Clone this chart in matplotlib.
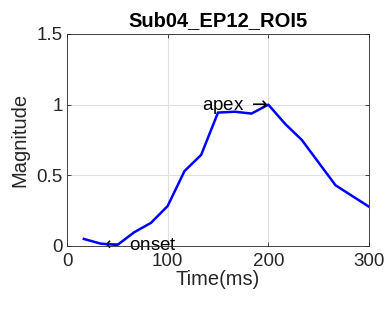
import matplotlib
matplotlib.use("Agg")
import matplotlib.pyplot as plt

time_ms = [16.7, 33.3, 50.0, 66.7, 83.3, 100.0, 116.7, 133.3, 150.0, 166.7,
           183.3, 200.0, 216.7, 233.3, 250.0, 266.7, 283.3, 300.0]
magnitude = [0.05, 0.017, 0.007, 0.097, 0.163, 0.283, 0.53, 0.645, 0.944, 0.95,
             0.937, 1.0, 0.864, 0.75, 0.59, 0.43, 0.354, 0.278]
title = "Sub04_EP12_ROI5"
onset_idx = 1
apex_idx = 11

plt.rcParams['font.family'] = ['Liberation Sans', 'DejaVu Sans']
fig = plt.figure(figsize=(3.88, 3.09), dpi=100)
ax = fig.add_axes([0.1727, 0.2039, 0.7783, 0.6861])

ax.plot(time_ms, magnitude, color=(0, 0, 1), linewidth=1.8, zorder=3)
ax.set_xlim(0, 300)
ax.set_ylim(0, 1.5)
ax.set_xticks([0, 100, 200, 300])
ax.set_yticks([0, 0.5, 1, 1.5])
ax.set_yticklabels(['0', '0.5', '1', '1.5'])
ax.grid(True, color=(0.88, 0.88, 0.88), linewidth=0.8)
ax.set_axisbelow(True)
ax.tick_params(direction='in', length=3, width=0.6, top=True, right=True,
               labelsize=13.5, colors=(0.15, 0.15, 0.15))
ax.tick_params(axis='x', pad=5)
ax.tick_params(axis='y', pad=3)
for s in ax.spines.values():
    s.set_color((0.15, 0.15, 0.15))
    s.set_linewidth(0.6)

ax.set_title(title, fontsize=14.5, fontweight='bold', pad=6)
ax.set_xlabel('Time(ms)', fontsize=14.5, color=(0.15, 0.15, 0.15), labelpad=0)
ax.set_ylabel('Magnitude', fontsize=14.5, color=(0.15, 0.15, 0.15), labelpad=5)

ax.text(time_ms[onset_idx], 0.0, r'$\leftarrow$ onset', ha='left', va='center',
        fontsize=13.5, color='black', zorder=2, clip_on=False)
ax.text(time_ms[apex_idx], magnitude[apex_idx] - 0.015, r'apex $\rightarrow$', ha='right', va='center',
        fontsize=13.5, color='black', zorder=4)

fig.savefig('out.png', dpi=100)
